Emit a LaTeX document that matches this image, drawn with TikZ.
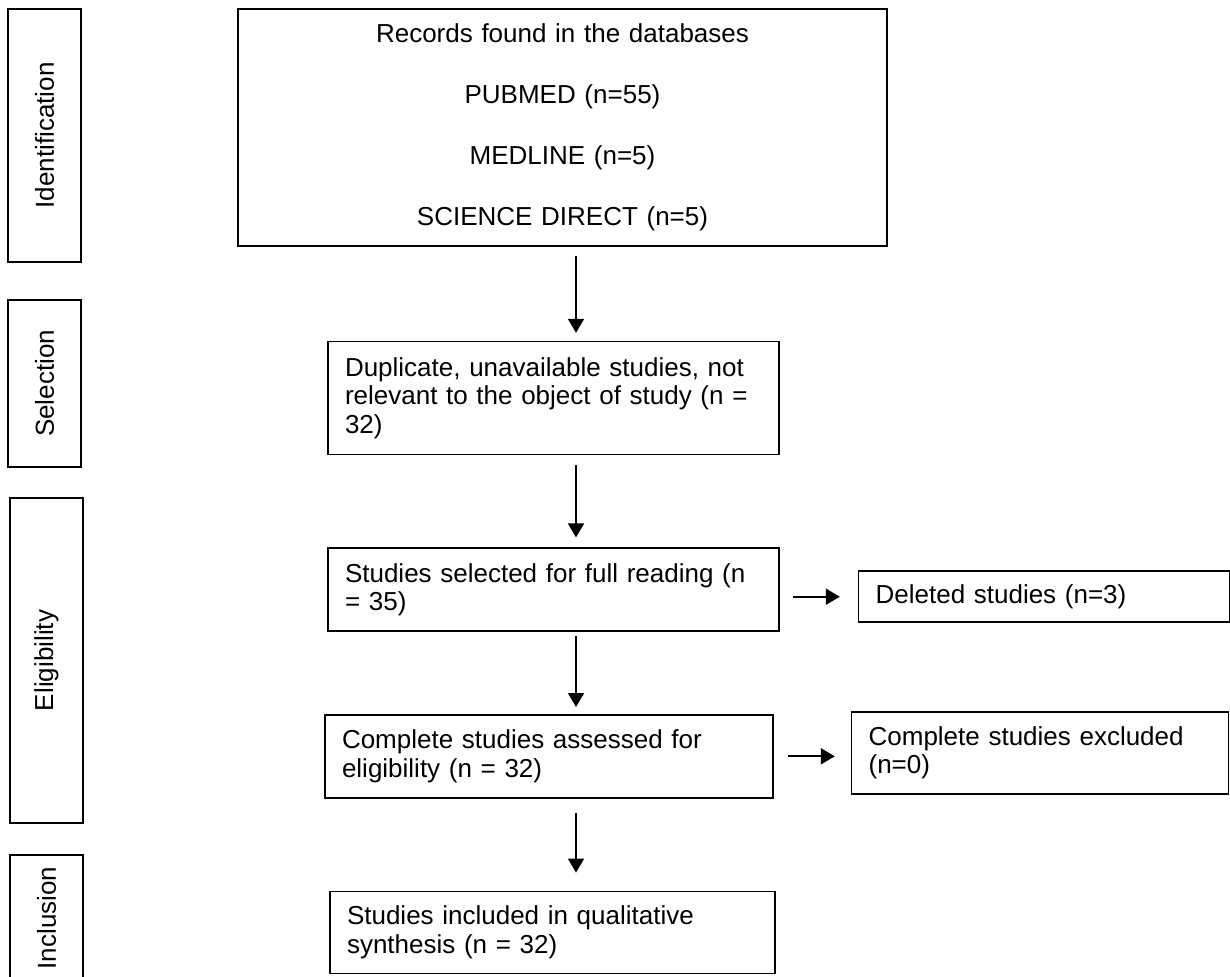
\documentclass[tikz,border=0pt]{standalone}
\usepackage{fontspec}
\setmainfont{Liberation Sans}
\usepackage{tikz}
\usetikzlibrary{arrows.meta,positioning}

\begin{document}
\begin{tikzpicture}[
  x=0.5pt, y=-0.5pt,
  box/.style={rectangle, draw, line width=0.8pt, align=left, text width=#1, inner xsep=8.5pt, inner ysep=0pt, font=\fontsize{13}{14.15}\selectfont},
  side/.style={rectangle, draw, line width=0.8pt, rotate=90, minimum height=36.5pt, inner sep=0pt, font=\fontsize{13}{14.15}\selectfont},
  arrow/.style={-{Triangle[length=7pt,width=8pt]}, line width=0.9pt}
]
\useasboundingbox (0,0) rectangle (1230,976);

% stage labels on the left
\node[side, minimum width=126.5pt] (lbid) at (44.5,135.5) {Identification};
\node[side, minimum width=83.5pt] (lbsel) at (44.5,383.5) {Selection};
\node[side, minimum width=162.5pt] (lbelig) at (46.5,660.5) {Eligibility};
\node[side, minimum width=63pt] (lbinc) at (46.5,918) {Inclusion};

% main column
\node[box=307.5pt, align=center, minimum height=118.5pt] (rec) at (562.5,127.5) {Records found in the databases\\[16.35pt]
  PUBMED (n=55)\\[16.35pt]
  MEDLINE (n=5)\\[16.35pt]
  SCIENCE DIRECT (n=5)};
\node[box=208.5pt, minimum height=56.5pt, below=47pt of rec, xshift=-4.5pt] (dup) {Duplicate, unavailable studies, not\\
  relevant to the object of study (n =\\
  32)};
\node[box=208.5pt, minimum height=41.5pt, below=46pt of dup] (full) {Studies selected for full reading (n\\
  = 35)};
\node[box=207pt, minimum height=41.5pt, below=41pt of full, xshift=-2.25pt] (assess) {Complete studies assessed for\\
  eligibility (n = 32)};
\node[box=205.5pt, minimum height=41pt, below=46pt of assess, xshift=1.75pt] (incl) {Studies included in qualitative\\
  synthesis (n = 32)};

% side boxes
\node[box=168.5pt, minimum height=25.5pt, right=39pt of full, yshift=-3.5pt] (del) {Deleted studies (n=3)};
\node[box=171.5pt, minimum height=41pt, right=38.5pt of assess, yshift=1.75pt] (excl) {Complete studies excluded\\
  (n=0)};

\coordinate (ax) at (576,0);
\draw[arrow, shorten <=4.5pt, shorten >=4pt] (rec.south -| ax) -- (dup.north -| ax);
\draw[arrow, shorten <=5pt, shorten >=5pt] (dup.south -| ax) -- (full.north -| ax);
\draw[arrow, shorten <=2pt, shorten >=3.5pt] (full.south -| ax) -- (assess.north -| ax);
\draw[arrow, shorten <=7pt, shorten >=9pt] (assess.south -| ax) -- (incl.north -| ax);
\draw[arrow, shorten <=6.5pt, shorten >=9pt] (full.east |- del.west) -- (del.west);
\draw[arrow, shorten <=7pt, shorten >=8pt] (assess.east) -- (assess.east -| excl.west);
\end{tikzpicture}
\end{document}
